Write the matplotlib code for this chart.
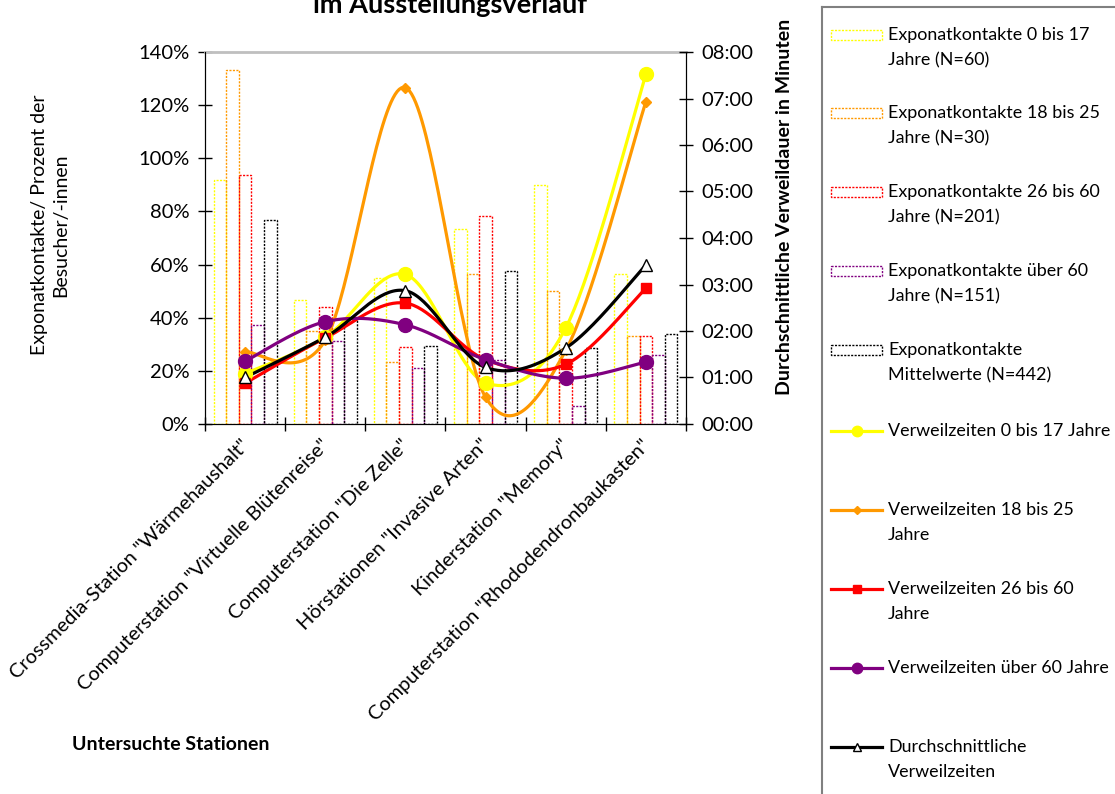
import numpy as np
import matplotlib
matplotlib.use("Agg")
import matplotlib.pyplot as plt
from matplotlib.patches import Rectangle
from matplotlib.lines import Line2D
from matplotlib.ticker import FuncFormatter, MultipleLocator
from matplotlib.transforms import ScaledTranslation

plt.rcParams['font.family'] = ['Lato', 'DejaVu Sans']

# stations along the exhibition route
stations = ['Crossmedia-Station "Wärmehaushalt"',
            'Computerstation "Virtuelle Blütenreise"',
            'Computerstation "Die Zelle"',
            'Hörstationen "Invasive Arten"',
            'Kinderstation "Memory"',
            'Computerstation "Rhododendronbaukasten"']

# exhibit contacts in percent of visitors (bars, left axis)
kontakte_0_17 = [91.7, 46.7, 55.1, 73.2, 89.8, 56.6]
kontakte_18_25 = [133.2, 35.0, 23.4, 56.6, 50.1, 33.2]
kontakte_26_60 = [93.6, 43.9, 28.9, 78.1, 23.5, 33.2]
kontakte_60plus = [37.1, 31.4, 21.1, 23.9, 6.7, 25.8]
kontakte_mittel = [76.6, 39.5, 29.3, 57.5, 28.7, 34.0]

# mean dwell time in minutes (lines, right axis)
zeit_0_17 = [65, 112, 193, 53, 124, 451]
zeit_18_25 = [93, 108, 434, 34.5, 95, 416]
zeit_26_60 = [52.6, 111, 156, 83, 77, 175]
zeit_60plus = [81, 132, 128, 83, 59, 80]
zeit_mittel = [60, 112, 172, 73, 98, 205]

bar_labels = ['Exponatkontakte 0 bis 17\nJahre (N=60)',
              'Exponatkontakte 18 bis 25\nJahre (N=30)',
              'Exponatkontakte 26 bis 60\nJahre (N=201)',
              'Exponatkontakte über 60\nJahre (N=151)',
              'Exponatkontakte\nMittelwerte (N=442)']
line_labels = ['Verweilzeiten 0 bis 17 Jahre',
               'Verweilzeiten 18 bis 25\nJahre',
               'Verweilzeiten 26 bis 60\nJahre',
               'Verweilzeiten über 60 Jahre',
               'Durchschnittliche\nVerweilzeiten']

bar_series = [kontakte_0_17, kontakte_18_25, kontakte_26_60, kontakte_60plus, kontakte_mittel]
line_series = [zeit_0_17, zeit_18_25, zeit_26_60, zeit_60plus, zeit_mittel]
bar_colors = ['#FFFF00', '#FF9900', '#FF0000', '#800080', '#000000']
line_colors = ['#FFFF00', '#FF9900', '#FF0000', '#800080', '#000000']
line_markers = [('o', 10, None), ('D', 5.5, None), ('s', 7.5, None), ('o', 10, None), ('^', 8.5, 'white')]

W, H = 1115, 794
LEG_FS = 12.9


def fx(px):
    return px / W


def fy(py):
    return 1 - py / H


def smooth(xs, ys, n=40):
    # bezier segments with catmull-rom style control points
    p = np.column_stack([xs, ys]).astype(float)
    out = []
    for i in range(len(p) - 1):
        p0 = p[i - 1] if i > 0 else p[i]
        p1, p2 = p[i], p[i + 1]
        p3 = p[i + 2] if i + 2 < len(p) else p[i + 1]
        c1 = p1 + (p2 - p0) / 6
        c2 = p2 - (p3 - p1) / 6
        t = np.linspace(0, 1, n)[:, None]
        seg = ((1 - t) ** 3) * p1 + 3 * ((1 - t) ** 2) * t * c1 + 3 * (1 - t) * t ** 2 * c2 + t ** 3 * p2
        out.append(seg if i == 0 else seg[1:])
    out = np.vstack(out)
    return out[:, 0], out[:, 1]


fig = plt.figure(figsize=(W / 100, H / 100), dpi=100)
ax = fig.add_axes([fx(205), fy(424), fx(686) - fx(205), fy(52) - fy(424)])

x = np.arange(len(stations))
bw = 0.1575
for i, (vals, col) in enumerate(zip(bar_series, bar_colors)):
    ax.bar(x + (i - 2) * bw, vals, width=bw, facecolor='none', edgecolor=col,
           linewidth=1.0, linestyle=(0, (1.5, 1)), zorder=2)

ax.set_xlim(-0.5, len(stations) - 0.5)
ax.set_ylim(0, 140)
ax.yaxis.set_major_locator(MultipleLocator(20))
ax.yaxis.set_major_formatter(FuncFormatter(lambda v, p: f"{v:.0f}%"))
ax.set_xticks(np.arange(-0.5, len(stations)), [])
ax.set_xticks(x, stations, minor=True, rotation=45, ha='right', va='top',
              rotation_mode='anchor', fontsize=14.4)
ax.tick_params(axis='x', which='major', direction='inout', length=10, width=1)
ax.tick_params(axis='x', which='minor', length=0, pad=9)
ax.tick_params(axis='y', direction='inout', length=10, width=1, labelsize=14.5, pad=6)
for lbl in ax.get_xticklabels(minor=True):
    lbl.set_transform(lbl.get_transform() + ScaledTranslation(-5 / 100, 0, fig.dpi_scale_trans))
for side in ['left', 'bottom', 'right']:
    ax.spines[side].set_color('black')
ax.spines['top'].set_color('#BFBFBF')
ax.spines['top'].set_linewidth(2)

ax2 = ax.twinx()
ax2.set_ylim(0, 480)
ax2.yaxis.set_major_locator(MultipleLocator(60))
ax2.yaxis.set_major_formatter(FuncFormatter(lambda v, p: f"{int(v // 60):02d}:{int(v % 60):02d}"))
ax2.tick_params(axis='y', direction='inout', length=10, width=1, labelsize=14.5, pad=6)
ax2.spines['top'].set_visible(False)

for vals, col, (mk, ms, mfc) in zip(line_series, line_colors, line_markers):
    sx, sy = smooth(x, vals)
    ax2.plot(sx, sy, color=col, linewidth=2.3, solid_capstyle='round', zorder=3)
    ax2.plot(x, vals, linestyle='none', marker=mk, markersize=ms,
             markerfacecolor=mfc if mfc else col, markeredgecolor=col,
             markeredgewidth=1.0, zorder=4)

# axis titles
fig.text(fx(450), fy(13), 'im Ausstellungsverlauf', ha='center', va='baseline',
         fontsize=19.5, fontweight='bold')
fig.text(fx(50), fy(225), 'Exponatkontakte/ Prozent der\nBesucher/-innen', rotation=90,
         ha='center', va='center', multialignment='center', fontsize=14, linespacing=1.3)
fig.text(fx(785), fy(207), 'Durchschnittliche Verweildauer in Minuten', rotation=90,
         ha='center', va='center', fontsize=14, fontweight='bold')
fig.text(fx(171), fy(745), 'Untersuchte Stationen', ha='center', va='center',
         fontsize=14, fontweight='bold')

# legend panel
lax = fig.add_axes([fx(822), 0, 1 - fx(822), fy(7)])
lax.set_xlim(822, W)
lax.set_ylim(H, 7)
lax.set_xticks([])
lax.set_yticks([])
lax.patch.set_alpha(0)
for side in ['right', 'bottom']:
    lax.spines[side].set_visible(False)
for side in ['left', 'top']:
    lax.spines[side].set_color('#808080')
    lax.spines[side].set_linewidth(1.5)

text_shift = ScaledTranslation(0, 0.08, fig.dpi_scale_trans)
bar_rows = [35, 113, 192, 271, 350]
line_rows = [431, 510, 589, 668, 747]
for yy, col, lab in zip(bar_rows, bar_colors, bar_labels):
    lax.add_patch(Rectangle((831, yy - 5), 51, 10, facecolor='none', edgecolor=col,
                            linewidth=1.0, linestyle=(0, (1.5, 1))))
    lax.text(888, yy, lab, ha='left', va='top', multialignment='left', fontsize=LEG_FS,
             linespacing=1.7, transform=lax.transData + text_shift)
for yy, col, (mk, ms, mfc), lab in zip(line_rows, line_colors, line_markers, line_labels):
    lax.add_line(Line2D([831, 882], [yy, yy], color=col, linewidth=2.3))
    lax.add_line(Line2D([856.5], [yy], marker=mk, markersize=ms * 0.75,
                        markerfacecolor=mfc if mfc else col, markeredgecolor=col,
                        markeredgewidth=1.0))
    lax.text(888, yy, lab, ha='left', va='top', multialignment='left', fontsize=LEG_FS,
             linespacing=1.7, transform=lax.transData + text_shift)

fig.savefig('out.png', dpi=100)
